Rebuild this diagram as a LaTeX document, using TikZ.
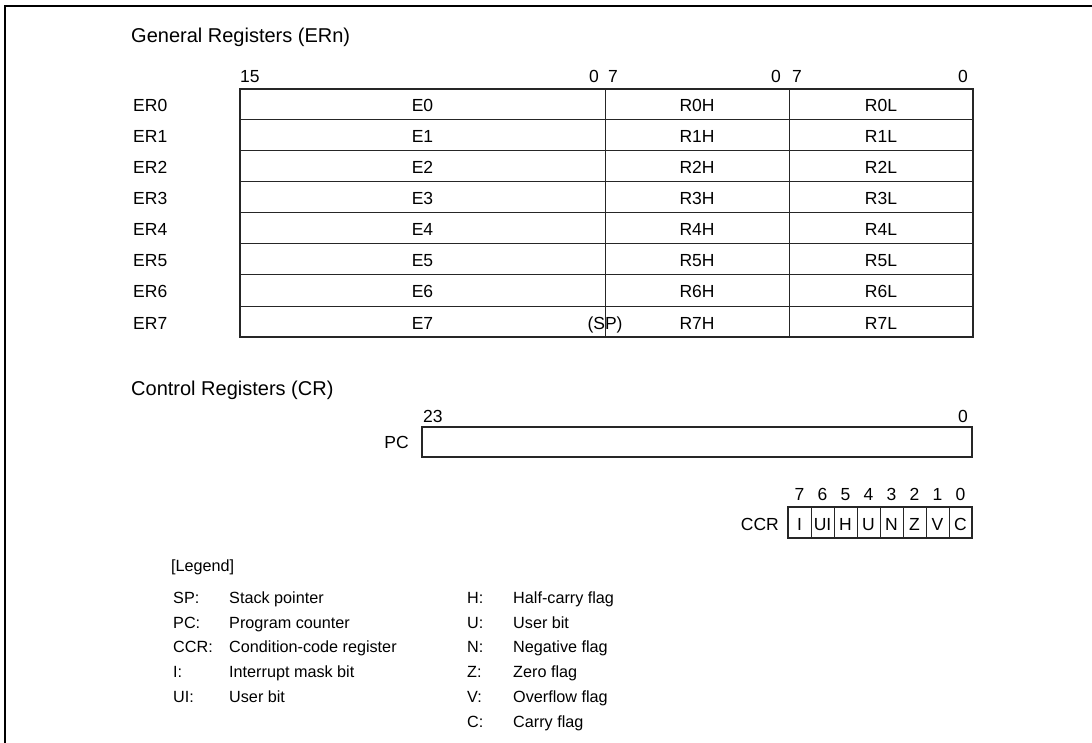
\documentclass[tikz,border=0pt]{standalone}
\usepackage{fontspec}
\setmainfont{Liberation Sans}
\begin{document}
\begin{tikzpicture}[x=1pt,y=-1pt,
  ttl/.style={inner sep=0pt,font=\fontsize{20}{24}\selectfont},
  lbl/.style={inner sep=0pt,font=\fontsize{17.5}{21}\selectfont},
  leg/.style={inner sep=0pt,font=\fontsize{16.2}{19}\selectfont,anchor=base west},
  outer/.style={line width=2pt,draw=black!85},
  inner/.style={line width=1pt,draw=black!85},
  frame/.style={line width=2.4pt,draw=black}]
\useasboundingbox (0,0) rectangle (1092,743);
% frame
\coordinate (f1) at (5,743);
\coordinate (f2) at (5,6);
\coordinate (f3) at (1092,6);
\draw[frame] (f1) -- (f2) -- (f3);
% General registers
\node[ttl,anchor=base west] (gtitle) at (131,43) {General Registers (ERn)};
\node[lbl,anchor=base west] (b15) at (240,82.5) {15};
\node[lbl,anchor=base east] (b0a) at (599,82.5) {0};
\node[lbl,anchor=base west] (b7a) at (608,82.5) {7};
\node[lbl,anchor=base east] (b0b) at (781,82.5) {0};
\node[lbl,anchor=base west] (b7b) at (792,82.5) {7};
\node[lbl,anchor=base east] (b0c) at (968,82.5) {0};
\coordinate (tl) at (240,89);
\coordinate (br) at (973,337);
\foreach \i in {1,...,7}{
  \pgfmathsetmacro\yy{89+31*\i}
  \coordinate (ra\i) at (240,\yy);
  \coordinate (rb\i) at (973,\yy);
  \draw[inner] (ra\i) -- (rb\i);
}
\coordinate (d1t) at (605,89); \coordinate (d1b) at (605,337);
\coordinate (d2t) at (789,89); \coordinate (d2b) at (789,337);
\draw[inner] (d1t) -- (d1b);
\draw[inner] (d2t) -- (d2b);
\draw[outer] (tl) rectangle (br);
\foreach \i in {0,...,7}{
  \pgfmathsetmacro\yb{89+31*\i+23}
  \node[lbl,anchor=base west] (er\i) at (133,\yb) {ER\i};
  \node[lbl,anchor=base] (e\i) at (422.5,\yb) {E\i};
  \node[lbl,anchor=base] (rh\i) at (697,\yb) {R\i H};
  \node[lbl,anchor=base] (rl\i) at (881,\yb) {R\i L};
}
\node[lbl,anchor=base] (sp) at (605,329) {(SP)};
% Control registers
\node[ttl,anchor=base west] (ctitle) at (131,395) {Control Registers (CR)};
\node[lbl,anchor=base west] (b23) at (423,422) {23};
\node[lbl,anchor=base east] (b0pc) at (968,422) {0};
\node[lbl,anchor=base east] (pc) at (409,448) {PC};
\coordinate (pctl) at (422,427);
\coordinate (pcbr) at (972,457);
\draw[outer] (pctl) rectangle (pcbr);
% CCR
\node[lbl,anchor=base east] (ccr) at (779,530) {CCR};
\foreach \b/\t [count=\k from 0] in {7/I,6/UI,5/H,4/U,3/N,2/Z,1/V,0/C}{
  \pgfmathsetmacro\xl{788+23*\k}
  \pgfmathsetmacro\xc{788+23*\k+11.5}
  \node[lbl,anchor=base] (cb\b) at (\xc,500) {\b};
  \node[lbl,anchor=base] (cf\b) at (\xc,530) {\t};
  \ifnum\k>0
    \coordinate (cv\k t) at (\xl,507);
    \coordinate (cv\k b) at (\xl,538);
    \draw[inner] (cv\k t) -- (cv\k b);
  \fi
}
\coordinate (ccrtl) at (788,507);
\coordinate (ccrbr) at (972,538);
\draw[outer] (ccrtl) rectangle (ccrbr);
% Legend
\node[leg] (legend) at (171,571) {[Legend]};
\node[leg] (l1a) at (173,603.5) {SP:};
\node[leg] (l1b) at (229,603.5) {Stack pointer};
\node[leg] (l2a) at (173,628) {PC:};
\node[leg] (l2b) at (229,628) {Program counter};
\node[leg] (l3a) at (173,652.5) {CCR:};
\node[leg] (l3b) at (229,652.5) {Condition-code register};
\node[leg] (l4a) at (173,677.5) {I:};
\node[leg] (l4b) at (229,677.5) {Interrupt mask bit};
\node[leg] (l5a) at (173,702.5) {UI:};
\node[leg] (l5b) at (229,702.5) {User bit};
\node[leg] (m1a) at (467,603.5) {H:};
\node[leg] (m1b) at (513,603.5) {Half-carry flag};
\node[leg] (m2a) at (467,628) {U:};
\node[leg] (m2b) at (513,628) {User bit};
\node[leg] (m3a) at (467,652.5) {N:};
\node[leg] (m3b) at (513,652.5) {Negative flag};
\node[leg] (m4a) at (467,677.5) {Z:};
\node[leg] (m4b) at (513,677.5) {Zero flag};
\node[leg] (m5a) at (467,702.5) {V:};
\node[leg] (m5b) at (513,702.5) {Overflow flag};
\node[leg] (m6a) at (467,727.5) {C:};
\node[leg] (m6b) at (513,727.5) {Carry flag};
\end{tikzpicture}
\end{document}
